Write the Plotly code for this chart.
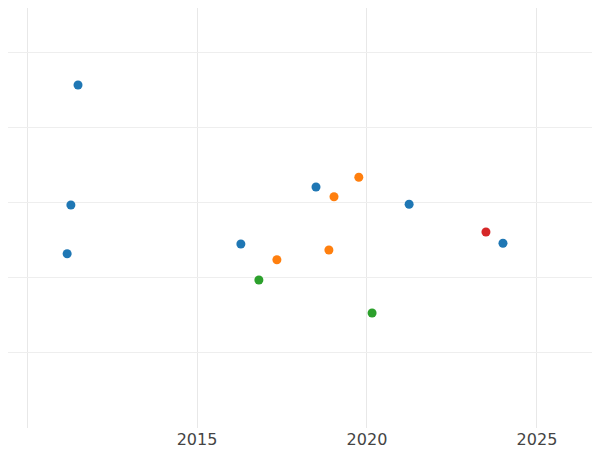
import plotly.graph_objects as go

blue_x = [2011.50, 2011.29, 2011.18, 2016.29, 2018.50, 2021.24, 2024.00]
blue_y = [4.56, 2.96, 2.31, 2.44, 3.20, 2.97, 2.45]
orange_x = [2019.76, 2019.03, 2017.35, 2018.88]
orange_y = [3.33, 3.07, 2.23, 2.36]
green_x = [2016.82, 2020.15]
green_y = [1.96, 1.52]
red_x = [2023.50]
red_y = [2.60]

fig = go.Figure()
for xs, ys, c in [(blue_x, blue_y, '#1f77b4'), (orange_x, orange_y, '#ff7f0e'),
                  (green_x, green_y, '#2ca02c'), (red_x, red_y, '#d62728')]:
    fig.add_trace(go.Scatter(x=xs, y=ys, mode='markers',
                             marker=dict(color=c, size=9), showlegend=False))

fig.update_layout(
    template='plotly_white',
    width=600, height=450,
    margin=dict(l=0, r=0, t=0, b=30),
    font=dict(family='DejaVu Sans', size=16, color='#444'),
)
fig.update_xaxes(range=[2009.44, 2027.09], tickvals=[2010, 2015, 2020, 2025],
                 gridcolor='#e8e8e8', gridwidth=1)
fig.update_yaxes(range=[-0.013, 5.587], tickvals=[1, 2, 3, 4, 5],
                 showticklabels=False, gridcolor='#eeeeee', zeroline=False)

fig.write_html("out.html")
